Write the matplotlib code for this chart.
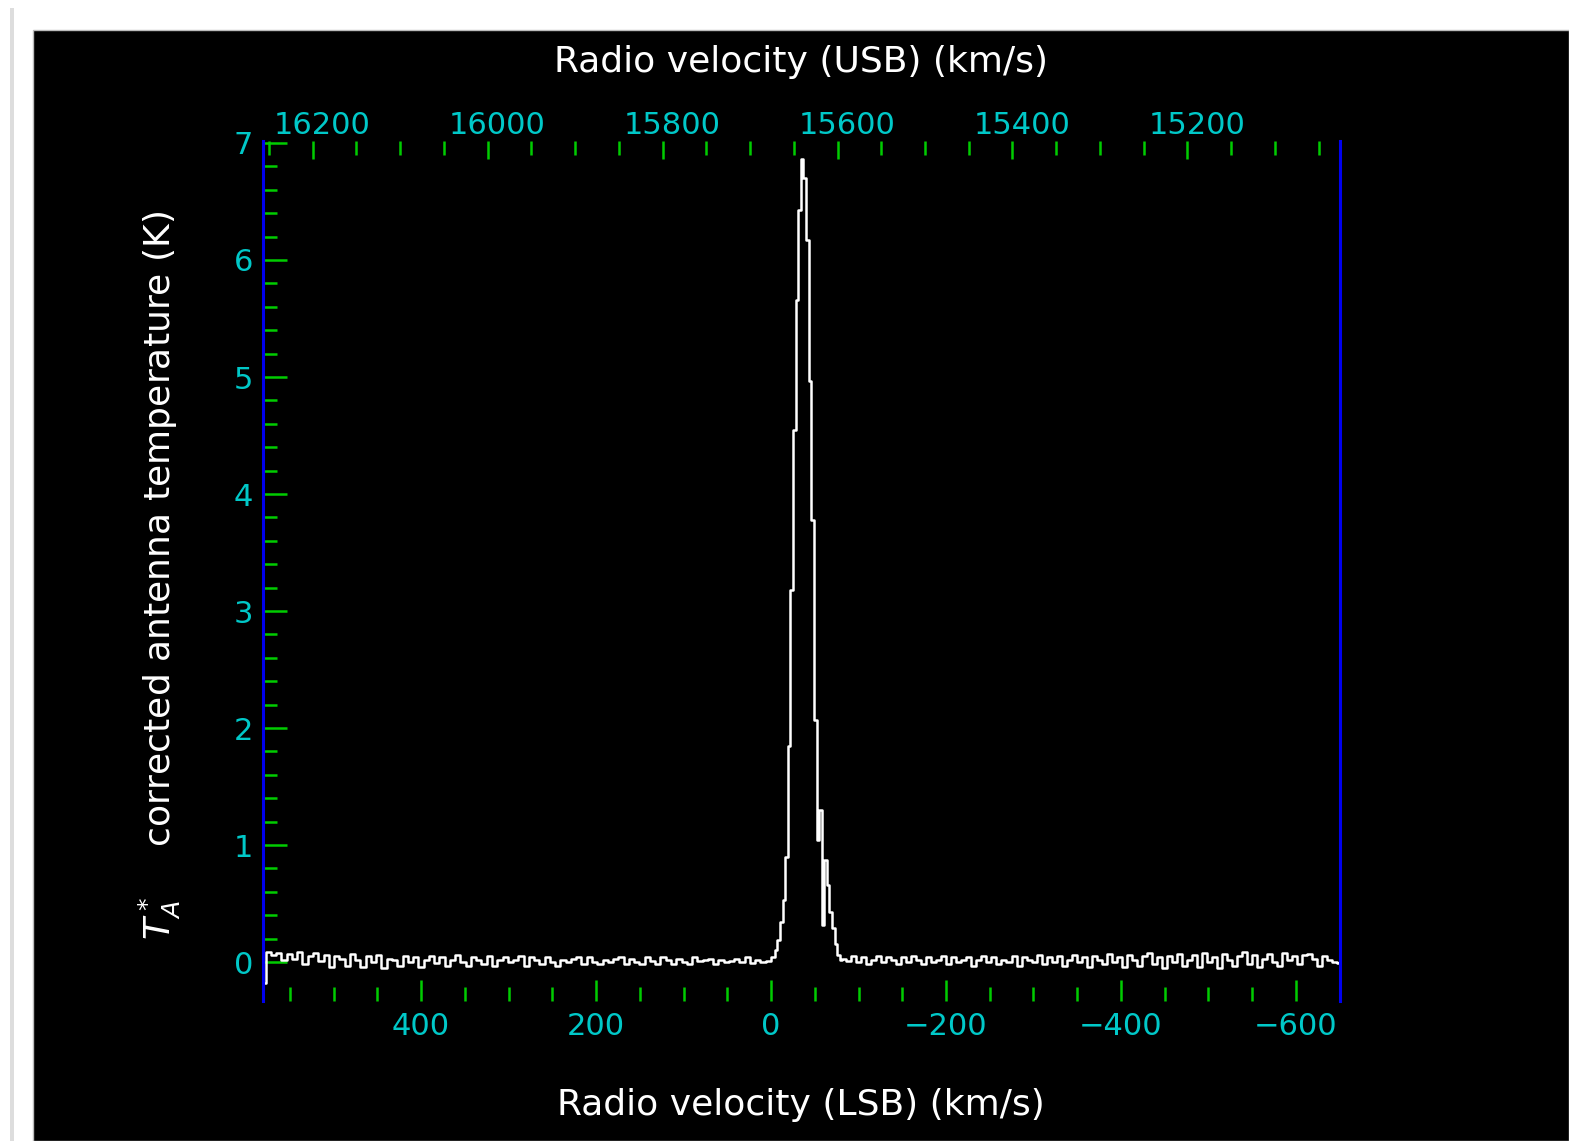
"""
Radio spectrum: corrected antenna temperature versus LSB / USB radio velocity.
"""

import numpy as np
import matplotlib
matplotlib.use('Agg')
import matplotlib.pyplot as plt
from matplotlib.patches import Rectangle
from matplotlib.ticker import MultipleLocator, FixedLocator
from matplotlib.transforms import ScaledTranslation

# baseline channels, left of the line (580 -> 3 km/s), in 0.01 K
base_left = [-18, 9, 6, 8, 2, 7, 3, 9, -2, 5, 8, 1, 6, -4, 5, 3, -3, 7, 2, -4,
             5, 0, 6, -5, 3, 2, -3, 5, 0, 4, -4, 2, 5, -1, 4, -3, 2, 6, 0, -3,
             4, 2, -2, 5, -3, 2, 4, 0, 2, 5, -3, 4, 2, -2, 4, 0, -3, 2, 0, 3,
             4, -2, 4, 0, -2, 2, 0, 3, 4, -2, 3, 0, -2, 4, 1, -2, 4, 2, -2, 3,
             0, -2, 4, 1, 2, 3, -2, 2, 0, 1, 3, 0, 4, -1, 2, 0, 1]

# line core (km/s, K)
core_vel = [-2.7, -5.7, -8.7, -11.7, -14.6, -17.6, -20.6, -23.5, -26.5, -29.5,
            -32.5, -35.4, -38.4, -41.5, -44.6, -47.5, -50.5, -53.5, -56.5,
            -59.4, -62.4, -65.4, -68.3, -71.3, -74.3, -77.3, -80.0]
core_tmp = [0.04, 0.10, 0.19, 0.34, 0.53, 0.90, 1.85, 3.18, 4.55, 5.66,
            6.43, 6.86, 6.70, 6.17, 4.97, 3.78, 2.07, 1.04, 1.30,
            0.32, 0.87, 0.66, 0.43, 0.29, 0.15, 0.06, 0.02]

# baseline channels, right of the line (-83 -> -650 km/s), in 0.01 K
base_right = [3, 1, 5, 0, 4, -2, 2, 5, 0, 4, 2, -2, 4, 0, 5, 2, -2, 4, 0, 2,
              5, -2, 4, 0, 2, 4, -3, 2, 5, 0, 4, -2, 2, 0, 5, -3, 4, 2, 0, 6,
              -2, 4, 0, 5, -3, 2, 6, 0, 4, -4, 5, 2, -2, 7, 0, 4, -4, 6, 2, -3,
              5, 8, -2, 4, -5, 5, 0, 7, -3, 2, 6, -4, 8, 0, 4, -5, 7, 2, -3, 5,
              9, -2, 6, -4, 3, 7, 0, -3, 8, 2, 5, -2, 6, 7, 3, -3, 5, 2, 0, -1]

# LSB -> USB velocity offset (km/s)
usb_offset = 15676.0

lsb_ticks = [400, 200, 0, -200, -400, -600]
usb_ticks = [16200, 16000, 15800, 15600, 15400, 15200]

GREEN = '#00cc00'
CYAN = '#00c8c8'
BLUE = '#0000ee'


def main():
    """Draw and save the spectrum."""

    vel = np.concatenate([np.linspace(580.6, 3.0, len(base_left)),
                          core_vel,
                          np.linspace(-83.0, -650.0, len(base_right))])
    tmp = np.concatenate([np.array(base_left) / 100.0, core_tmp,
                          np.array(base_right) / 100.0])

    W, H = 1569, 1141
    fig = plt.figure(figsize=(W / 100, H / 100), dpi=100)
    fig.patch.set_facecolor('white')

    # window frame, behind the axes
    fig.add_artist(Rectangle((10 / W, 0), 4 / W, 1 - 8 / H,
                             transform=fig.transFigure, facecolor='#dddddd',
                             edgecolor='none', zorder=-2))
    fig.add_artist(Rectangle((33 / W, 0), 1 - 33 / W, (H - 30) / H,
                             transform=fig.transFigure, facecolor='black',
                             edgecolor='#bbbbbb', linewidth=1, zorder=-1))

    ax = fig.add_axes([263 / W, 140 / H, 1077 / W, 860 / H])
    ax.set_facecolor('black')

    # spectrum
    ax.plot(vel, tmp, color='white', lw=1.8, drawstyle='steps-mid')
    ax.set_xlim(580.6, -650.3)
    ax.set_ylim(-0.333, 7.017)

    # spines
    for side in ('top', 'bottom'):
        ax.spines[side].set_visible(False)
    for side in ('left', 'right'):
        ax.spines[side].set_color(BLUE)
        ax.spines[side].set_linewidth(2.2)

    # bottom / left ticks
    ax.xaxis.set_major_locator(FixedLocator(lsb_ticks))
    ax.xaxis.set_minor_locator(MultipleLocator(50))
    ax.set_xticklabels(['%d' % t if t >= 0 else '\u2212%d' % -t
                        for t in lsb_ticks])
    ax.yaxis.set_major_locator(MultipleLocator(1))
    ax.yaxis.set_minor_locator(FixedLocator(np.arange(0.2, 6.9, 0.2)))
    ax.tick_params(which='both', direction='in', color=GREEN,
                   labelcolor=CYAN, labelsize=22, width=1.8,
                   top=False, right=False)
    ax.tick_params(axis='x', which='major', length=15, pad=8)
    ax.tick_params(axis='x', which='minor', length=10)
    ax.tick_params(axis='y', which='major', length=17, pad=7)
    ax.tick_params(axis='y', which='minor', length=10)

    # top axis in USB velocity
    secax = ax.secondary_xaxis('top',
                               functions=(lambda v: v + usb_offset,
                                          lambda u: u - usb_offset))
    secax.spines['top'].set_visible(False)
    secax.xaxis.set_major_locator(FixedLocator(usb_ticks))
    secax.xaxis.set_minor_locator(MultipleLocator(50))
    secax.tick_params(which='both', direction='in', color=GREEN,
                      labelcolor=CYAN, labelsize=22, width=1.8)
    secax.tick_params(which='major', length=13, pad=1)
    secax.tick_params(which='minor', length=10)

    # labels
    fig.text(801 / W, 1 - 62 / H, 'Radio velocity (USB) (km/s)',
             color='white', fontsize=26, ha='center', va='center')
    fig.text(801 / W, 1 - 1105 / H, 'Radio velocity (LSB) (km/s)',
             color='white', fontsize=26, ha='center', va='center')
    fig.text(160 / W, 1 - 575 / H,
             r'$T_A^*$    corrected antenna temperature (K)',
             color='white', fontsize=26, rotation=90,
             ha='center', va='center')

    # top labels sit a little right of their ticks
    fig.canvas.draw()
    shift = ScaledTranslation(10 / 100, 0, fig.dpi_scale_trans)
    for lbl in secax.get_xticklabels():
        lbl.set_transform(lbl.get_transform() + shift)

    fig.savefig('out.png', dpi=100, facecolor=fig.get_facecolor())


if __name__ == '__main__':
    main()
